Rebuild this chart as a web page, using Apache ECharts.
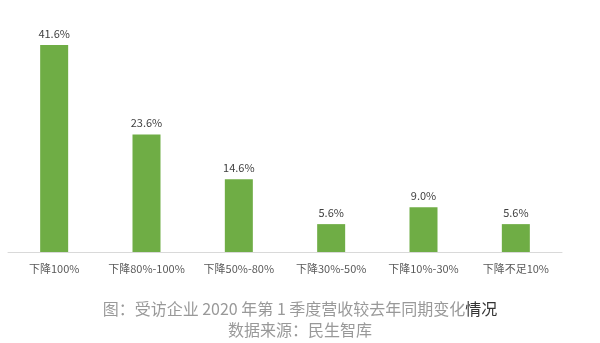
<!DOCTYPE html>
<html><head><meta charset="utf-8">
<script src="https://cdn.jsdelivr.net/npm/echarts@6/dist/echarts.min.js"></script>
<style>html,body{margin:0;padding:0;background:#fff}#c{width:600px;height:343px}</style>
</head><body><div id="c"></div>
<script>
const categories = ['下降100%','下降80%-100%','下降50%-80%','下降30%-50%','下降10%-30%','下降不足10%'];
const values = [41.6, 23.6, 14.6, 5.6, 9.0, 5.6];
const chart = echarts.init(document.getElementById('c'));
chart.setOption({
  animation: false,
  grid: {left: 8, right: 38, top: 28, bottom: 91, containLabel: false},
  xAxis: {
    type: 'category', data: categories,
    axisLine: {lineStyle: {color: '#d9d9d9', width: 1}},
    axisTick: {show: false},
    axisLabel: {interval: 0, color: '#595959', fontSize: 11, margin: 11, fontFamily: 'Noto Sans CJK SC'}
  },
  yAxis: {type: 'value', min: 0, max: 45, show: false, splitLine: {show: false}},
  series: [{
    type: 'bar', data: values, barWidth: 28,
    itemStyle: {color: '#6fad45'},
    label: {show: true, position: 'top', distance: 6, color: '#404040', fontSize: 11,
      fontFamily: 'Noto Sans CJK SC',
      formatter: p => p.value.toFixed(1) + '%'}
  }],
  graphic: [
    {type: 'text', left: 'center', top: 301, style: {
      text: '{a|图：受访企业 2020 年第 1 季度营收较去年同期变化}{b|情况}',
      rich: {
        a: {fill: '#999999', fontSize: 16, fontFamily: 'Noto Sans CJK SC'},
        b: {fill: '#333', fontSize: 16, fontFamily: 'Noto Sans CJK SC'}
      }}},
    {type: 'text', left: 'center', top: 322, style: {
      text: '数据来源：民生智库', fill: '#999999', fontSize: 16, fontFamily: 'Noto Sans CJK SC'}}
  ]
});
</script></body></html>
